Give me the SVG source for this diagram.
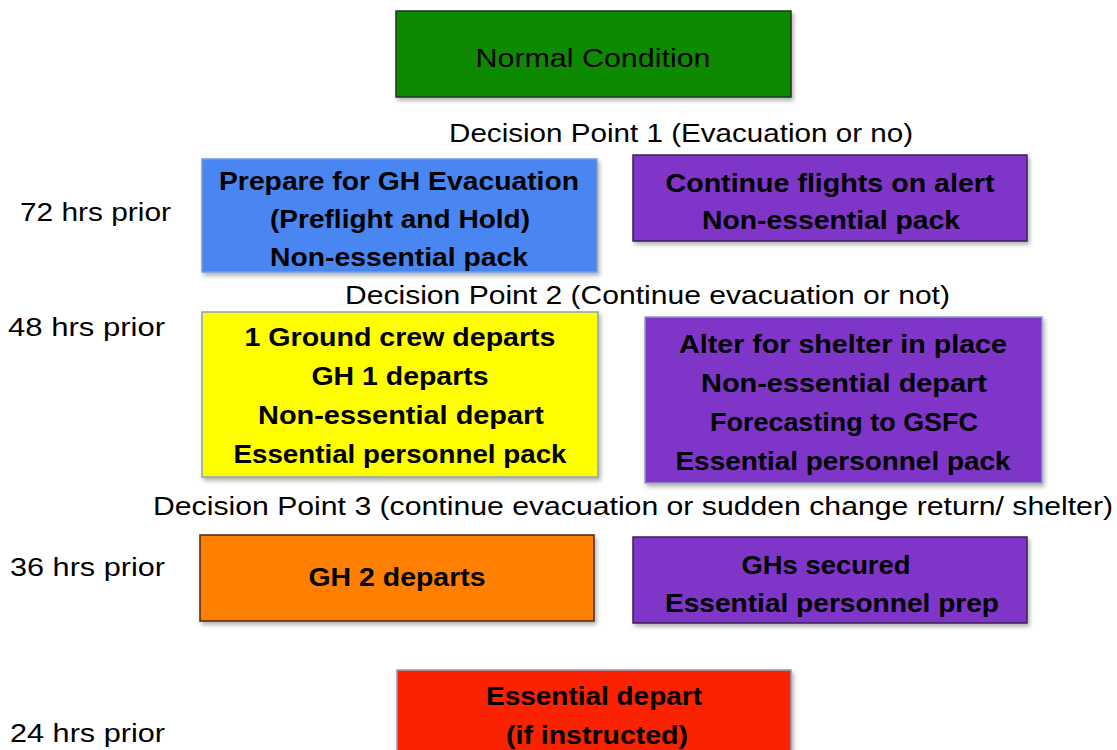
<svg xmlns="http://www.w3.org/2000/svg" width="1117" height="750" viewBox="0 0 1117 750">
<style>
.box{stroke-width:1.5}
.t{font-family:"Liberation Sans",Arial,sans-serif;font-size:26px;fill:#000;text-anchor:middle}
.b{font-weight:bold}
.l{font-family:"Liberation Sans",Arial,sans-serif;font-size:25px;fill:#000}
</style>
<defs>
<filter id="sh" x="-5%" y="-10%" width="112%" height="130%">
<feDropShadow dx="2" dy="3" stdDeviation="2" flood-color="#000" flood-opacity="0.3"/>
</filter>
</defs>
<rect width="1117" height="750" fill="#fff"/>
<g id="labels">
<text class="l" x="20" y="221" textLength="151" lengthAdjust="spacingAndGlyphs">72 hrs prior</text>
<text class="l" x="8" y="336" textLength="157" lengthAdjust="spacingAndGlyphs">48 hrs prior</text>
<text class="l" x="10" y="576" textLength="155" lengthAdjust="spacingAndGlyphs">36 hrs prior</text>
<text class="l" x="10" y="742" textLength="155" lengthAdjust="spacingAndGlyphs">24 hrs prior</text>
<text class="l" x="449" y="142" textLength="464" lengthAdjust="spacingAndGlyphs">Decision Point 1 (Evacuation or no)</text>
<text class="l" x="345" y="304" textLength="605" lengthAdjust="spacingAndGlyphs">Decision Point 2 (Continue evacuation or not)</text>
<text class="l" x="153" y="515" textLength="960" lengthAdjust="spacingAndGlyphs">Decision Point 3 (continue evacuation or sudden change return/ shelter)</text>
</g>
<g id="normal">
<rect class="box" x="396" y="11" width="395" height="86" fill="#0b8a00" stroke="#1e3a1e" filter="url(#sh)"/>
<text class="t" x="593" y="67" textLength="235" lengthAdjust="spacingAndGlyphs">Normal Condition</text>
</g>
<g id="prepare">
<rect class="box" x="202" y="159" width="395" height="113" fill="#4a86f2" stroke="#6f9fe0" filter="url(#sh)"/>
<text class="t b" x="399" y="190" textLength="360" lengthAdjust="spacingAndGlyphs">Prepare for GH Evacuation</text>
<text class="t b" x="400" y="228" textLength="260" lengthAdjust="spacingAndGlyphs">(Preflight and Hold)</text>
<text class="t b" x="399" y="266" textLength="258" lengthAdjust="spacingAndGlyphs">Non-essential pack</text>
</g>
<g id="continue">
<rect class="box" x="633" y="155" width="394" height="86" fill="#7e35c8" stroke="#3a2050" filter="url(#sh)"/>
<text class="t b" x="830" y="192" textLength="329" lengthAdjust="spacingAndGlyphs">Continue flights on alert</text>
<text class="t b" x="831" y="229" textLength="258" lengthAdjust="spacingAndGlyphs">Non-essential pack</text>
</g>
<g id="ground">
<rect class="box" x="202" y="312" width="396" height="165" fill="#ffff00" stroke="#8aa0c0" filter="url(#sh)"/>
<text class="t b" x="400" y="346" textLength="311" lengthAdjust="spacingAndGlyphs">1 Ground crew departs</text>
<text class="t b" x="400" y="385" textLength="177" lengthAdjust="spacingAndGlyphs">GH 1 departs</text>
<text class="t b" x="401" y="424" textLength="286" lengthAdjust="spacingAndGlyphs">Non-essential depart</text>
<text class="t b" x="400" y="463" textLength="333" lengthAdjust="spacingAndGlyphs">Essential personnel pack</text>
</g>
<g id="alter">
<rect class="box" x="645" y="317" width="397" height="166" fill="#7e35c8" stroke="#8aa0c0" filter="url(#sh)"/>
<text class="t b" x="843" y="353" textLength="328" lengthAdjust="spacingAndGlyphs">Alter for shelter in place</text>
<text class="t b" x="844" y="392" textLength="286" lengthAdjust="spacingAndGlyphs">Non-essential depart</text>
<text class="t b" x="844" y="431" textLength="268" lengthAdjust="spacingAndGlyphs">Forecasting to GSFC</text>
<text class="t b" x="843" y="470" textLength="335" lengthAdjust="spacingAndGlyphs">Essential personnel pack</text>
</g>
<g id="gh2">
<rect class="box" x="200" y="535" width="394" height="86" fill="#ff7f00" stroke="#4a2a10" filter="url(#sh)"/>
<text class="t b" x="397" y="586" textLength="177" lengthAdjust="spacingAndGlyphs">GH 2 departs</text>
</g>
<g id="secured">
<rect class="box" x="633" y="537" width="394" height="86" fill="#7e35c8" stroke="#3a2050" filter="url(#sh)"/>
<text class="t b" x="826" y="574" textLength="169" lengthAdjust="spacingAndGlyphs">GHs secured</text>
<text class="t b" x="832" y="612" textLength="334" lengthAdjust="spacingAndGlyphs">Essential personnel prep</text>
</g>
<g id="essential">
<rect class="box" x="397" y="670" width="394" height="95" fill="#fa2400" stroke="#8aa0c0" filter="url(#sh)"/>
<text class="t b" x="594" y="705" textLength="216" lengthAdjust="spacingAndGlyphs">Essential depart</text>
<text class="t b" x="597" y="744" textLength="182" lengthAdjust="spacingAndGlyphs">(if instructed)</text>
</g>
<g id="connectors"></g>
</svg>
